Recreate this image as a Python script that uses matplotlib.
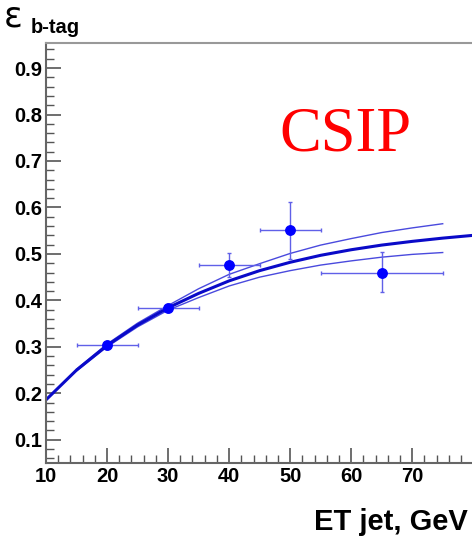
import numpy as np
import matplotlib.pyplot as plt
from matplotlib.ticker import MultipleLocator

# measured points
et = [20, 30, 40, 50, 65]
eff = [0.303, 0.384, 0.476, 0.551, 0.459]
et_err = [5, 5, 5, 5, 10]
eff_lo = [0.008, 0.008, 0.026, 0.061, 0.042]
eff_hi = [0.008, 0.008, 0.025, 0.060, 0.045]

# fit curve and its error band
fit_x = [10, 15, 20, 25, 30, 35, 40, 45, 50, 55, 60, 65, 70, 75, 80]
fit_y = [0.186, 0.250, 0.303, 0.347, 0.384, 0.415, 0.442, 0.464, 0.482, 0.497,
         0.509, 0.519, 0.527, 0.534, 0.540]
band_x = [15, 20, 25, 30, 35, 40, 45, 50, 55, 60, 65, 70, 75]
band_up = [0.252, 0.306, 0.351, 0.389, 0.425, 0.456, 0.479, 0.501, 0.519,
           0.533, 0.546, 0.556, 0.565]
band_dn = [0.248, 0.300, 0.343, 0.379, 0.406, 0.431, 0.450, 0.464, 0.476,
           0.485, 0.493, 0.499, 0.503]

fig = plt.figure(figsize=(4.72, 5.36), dpi=100)
ax = fig.add_axes([0.0975, 0.1362, 0.9025, 0.7836])

ax.plot(band_x, band_up, color='#2a2ad8', lw=1.0, alpha=0.85)
ax.plot(band_x, band_dn, color='#2a2ad8', lw=1.0, alpha=0.85)
ax.plot(fit_x, fit_y, color='#0a0ac8', lw=2.2)
ax.errorbar(et, eff, xerr=et_err, yerr=[eff_lo, eff_hi], fmt='o', color='#0000ff',
            ms=6.8, ecolor='#6060e8', elinewidth=1.0, capsize=1.5, capthick=1.0)

ax.set_xlim(10, 79.8)
ax.set_ylim(0.05, 0.954)
ax.xaxis.set_major_locator(MultipleLocator(10))
ax.xaxis.set_minor_locator(MultipleLocator(2))
ax.yaxis.set_minor_locator(MultipleLocator(0.02))
ax.set_yticks(np.arange(0.1, 0.95, 0.1))
ax.set_yticklabels(['%.1f' % v for v in np.arange(0.1, 0.95, 0.1)])

ax.tick_params(which='major', direction='in', length=11, width=1.2, color='#555555',
               labelsize=14.5, pad=3)
ax.tick_params(which='minor', direction='in', length=6, width=1.0, color='#555555')
for lab in ax.get_xticklabels() + ax.get_yticklabels():
    lab.set_fontweight('bold')
    lab.set_family('Liberation Sans')

for s in ['left', 'bottom']:
    ax.spines[s].set_color('#666666')
    ax.spines[s].set_linewidth(1.5)
ax.spines['top'].set_color('#999999')
ax.spines['top'].set_linewidth(1.5)
ax.spines['right'].set_visible(False)

ax.text(0.547, 0.745, 'CSIP', transform=ax.transAxes, color='#ff0000',
        fontsize=45, family='Liberation Serif')

fig.text(0.008, 0.951, 'ε', fontsize=25, family='DejaVu Sans', va='baseline')
fig.text(0.064, 0.938, 'b-tag', fontsize=14.5, fontweight='bold',
         family='Liberation Sans', va='baseline')
fig.text(0.99, 0.011, 'ET jet, GeV', fontsize=21, fontweight='bold',
         family='Liberation Sans', ha='right', va='baseline')

fig.savefig('out.png', dpi=100)
